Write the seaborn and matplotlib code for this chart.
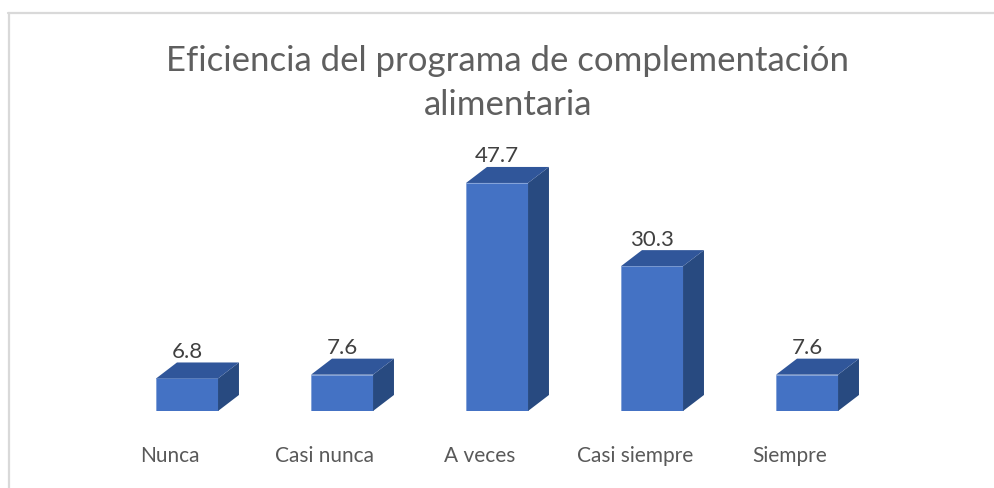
import numpy as np
import pandas as pd
import seaborn as sns
import matplotlib.pyplot as plt
from matplotlib.patches import Polygon
from matplotlib.lines import Line2D

categories = ["Nunca", "Casi nunca", "A veces", "Casi siempre", "Siempre"]
values = [6.8, 7.6, 47.7, 30.3, 7.6]
title = "Eficiencia del programa de complementación\nalimentaria"

df = pd.DataFrame({"categoria": categories, "valor": values})

sns.set_style("white")
plt.rcParams["font.family"] = ["Lato", "DejaVu Sans"]

front = "#4472C4"
top_c = "#30569A"
side_c = "#284A80"

fig = plt.figure(figsize=(9.94, 4.88), dpi=100)
ax = fig.add_axes([0.1102, 0.1578, 0.7797, 0.4898])

bar_w = 0.4
sns.barplot(data=df, x="categoria", y="valor", color=front, width=bar_w,
            saturation=1, edgecolor="#7F9FD8", linewidth=0.6, ax=ax)

# fake 3D depth
dx, dy = 0.135, 3.35
for i, v in enumerate(values):
    xl, xr = i - bar_w / 2, i + bar_w / 2
    side = Polygon([(xr, 0), (xr + dx, dy), (xr + dx, v + dy), (xr, v)],
                   closed=True, facecolor=side_c, edgecolor="none",
                   clip_on=False, zorder=3)
    top = Polygon([(xl, v), (xr, v), (xr + dx, v + dy), (xl + dx, v + dy)],
                  closed=True, facecolor=top_c, edgecolor="none",
                  clip_on=False, zorder=3)
    ax.add_patch(side)
    ax.add_patch(top)
    ax.text(i, v + dy + 0.1, f"{v:.1f}", ha="center", va="bottom",
            fontsize=16, color="#404040", clip_on=False)
    ax.text(i - 0.11, -9.5, categories[i], ha="center", va="center",
            fontsize=15, color="#595959", clip_on=False)

ax.set_xlim(-0.5, 4.5)
ax.set_ylim(0, 50)
ax.set_xticks([])
ax.set_yticks([])
ax.set_xlabel("")
ax.set_ylabel("")
sns.despine(ax=ax, left=True, bottom=True)

fig.text(0.511, 0.83, title, ha="center", va="center", fontsize=25,
         color="#5F5F5F", linespacing=1.45)

# chart area border (top and left only visible)
fig.add_artist(Line2D([8 / 994, 1.0], [1 - 12.5 / 488] * 2, color="#D9D9D9",
                      lw=1.6, transform=fig.transFigure))
fig.add_artist(Line2D([8.5 / 994] * 2, [0, 1 - 12.5 / 488], color="#D9D9D9",
                      lw=1.6, transform=fig.transFigure))

fig.savefig("out.png", dpi=100)
